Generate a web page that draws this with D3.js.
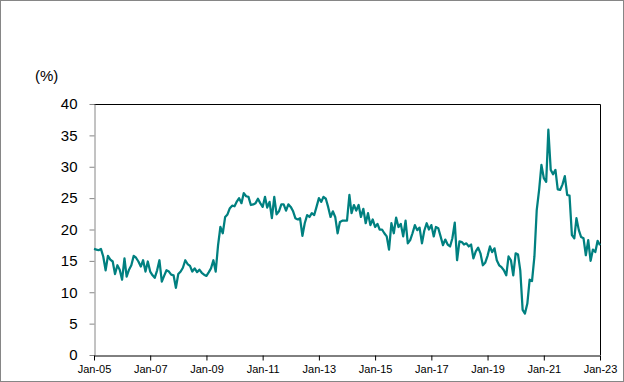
<!DOCTYPE html>
<html>
<head>
<meta charset="utf-8">
<script src="https://cdn.jsdelivr.net/npm/d3@7"></script>
<style>
  html, body { margin: 0; padding: 0; background: #fff; }
  svg { display: block; font-family: "Liberation Sans", Arial, sans-serif; }
</style>
</head>
<body>
<svg id="chart" width="624" height="382"></svg>
<script>
// Monthly values (%), Jan 2005 – Jan 2023
const y2005 = [16.9, 16.8, 16.7, 16.9, 15.7, 13.5, 15.8, 15.2, 14.9, 12.9, 14.3, 13.6];
const y2006 = [12.0, 15.4, 12.5, 13.6, 14.3, 15.8, 15.5, 14.9, 14.1, 15.1, 13.3, 14.9];
const y2007 = [13.3, 12.7, 12.3, 13.5, 15.1, 11.7, 12.6, 13.5, 13.3, 12.8, 12.7, 10.7];
const y2008 = [12.9, 13.3, 13.9, 15.1, 14.5, 14.2, 13.3, 13.8, 13.2, 13.6, 13.1, 12.8];
const y2009 = [12.6, 13.2, 13.8, 15.1, 13.3, 17.5, 20.4, 19.4, 22.0, 22.4, 23.4, 23.8];
const y2010 = [23.7, 24.5, 25.0, 24.2, 25.8, 25.3, 25.2, 23.9, 24.0, 24.2, 24.9, 24.2];
const y2011 = [23.6, 25.2, 23.5, 24.4, 21.8, 25.2, 22.4, 22.9, 24.0, 24.0, 23.0, 24.0];
const y2012 = [23.6, 22.9, 21.8, 21.6, 21.8, 19.0, 21.0, 22.3, 22.0, 22.6, 22.3, 23.6];
const y2013 = [25.0, 24.4, 25.2, 24.9, 23.6, 22.0, 22.9, 22.0, 19.4, 21.2, 21.4, 21.4];
const y2014 = [21.4, 25.5, 22.6, 23.9, 23.0, 23.9, 22.0, 23.3, 21.0, 22.6, 20.7, 21.6];
const y2015 = [20.4, 20.9, 20.0, 20.0, 19.4, 18.9, 16.8, 21.0, 19.4, 21.9, 20.4, 20.9];
const y2016 = [18.9, 21.4, 17.8, 18.3, 19.4, 20.7, 19.9, 20.3, 17.8, 19.8, 21.0, 20.0];
const y2017 = [20.7, 18.9, 20.4, 20.2, 18.9, 17.5, 18.4, 17.6, 17.3, 18.6, 21.1, 15.1];
const y2018 = [18.1, 18.0, 17.6, 17.8, 17.3, 17.6, 15.4, 16.5, 17.1, 16.2, 14.3, 14.7];
const y2019 = [15.8, 17.3, 16.4, 17.0, 15.1, 14.3, 14.0, 13.5, 12.7, 15.7, 15.1, 12.7];
const y2020 = [16.2, 16.0, 13.5, 7.2, 6.6, 8.2, 12.0, 11.8, 15.7, 23.1, 26.3, 30.3];
const y2021 = [28.2, 27.6, 35.9, 29.5, 28.8, 29.5, 26.4, 26.3, 27.2, 28.5, 25.5, 25.4];
const y2022 = [19.1, 18.6, 21.8, 19.9, 18.8, 18.6, 15.9, 18.3, 15.0, 16.8, 16.4, 18.2];
const y2023 = [17.5];

const startYear = 2005;
const yTicks = [0, 5, 10, 15, 20, 25, 30, 35, 40];
const xTickYears = [2005, 2007, 2009, 2011, 2013, 2015, 2017, 2019, 2021, 2023];
const yUnitLabel = "(%)";

const values = [].concat(y2005, y2006, y2007, y2008, y2009, y2010, y2011, y2012,
  y2013, y2014, y2015, y2016, y2017, y2018, y2019, y2020, y2021, y2022, y2023);
const data = values.map((v, i) => ({ date: new Date(startYear, i, 1), value: v }));

const svg = d3.select("#chart");
const W = 624, H = 382;
const mLeft = 94, mRight = 600, mTop = 104, mBottom = 355;

// outer border
svg.append("rect").attr("x", 0.5).attr("y", 0.5).attr("width", W - 1).attr("height", H - 1)
  .attr("fill", "#fff").attr("stroke", "#868686").attr("stroke-width", 1);

const x = d3.scaleTime()
  .domain([new Date(2005, 0, 1), new Date(2023, 0, 1)])
  .range([mLeft, mRight]);
const y = d3.scaleLinear().domain([0, 40]).range([mBottom, mTop]);

// plot frame (top and right)
svg.append("path")
  .attr("d", `M${mLeft},${mTop + 0.5}H${mRight + 0.5}V${mBottom}`)
  .attr("fill", "none").attr("stroke", "#000").attr("stroke-width", 1);

// Y axis
const yAxis = d3.axisLeft(y).tickValues(yTicks).tickSize(5).tickPadding(12).tickSizeOuter(0);
const gy = svg.append("g").attr("transform", `translate(${mLeft + 0.5},0)`).call(yAxis);
gy.selectAll("path.domain").attr("stroke", "#868686");
gy.selectAll(".tick line").attr("stroke", "#868686");
gy.selectAll("text").attr("font-size", 15).attr("fill", "#000")
  .attr("font-family", "'Liberation Sans', Arial, sans-serif");

// X axis
const fmt = d3.timeFormat("%b-%y");
const xAxis = d3.axisBottom(x)
  .tickValues(xTickYears.map(yr => new Date(yr, 0, 1)))
  .tickFormat(fmt).tickSize(5).tickPadding(5).tickSizeOuter(0);
const gx = svg.append("g").attr("transform", `translate(0,${mBottom + 0.5})`).call(xAxis);
gx.selectAll("path.domain").attr("stroke", "#000");
gx.selectAll(".tick line").attr("stroke", "#000");
gx.selectAll("text").attr("font-size", 11).attr("fill", "#000")
  .attr("font-family", "'Liberation Sans', Arial, sans-serif");

// unit label
svg.append("text").attr("x", 35).attr("y", 81).attr("font-size", 15)
  .attr("fill", "#000").text(yUnitLabel);

// line
const line = d3.line().x(d => x(d.date)).y(d => y(d.value));
svg.append("path").datum(data)
  .attr("d", line).attr("fill", "none")
  .attr("stroke", "#008080").attr("stroke-width", 2.25)
  .attr("stroke-linejoin", "round");
</script>
</body>
</html>
